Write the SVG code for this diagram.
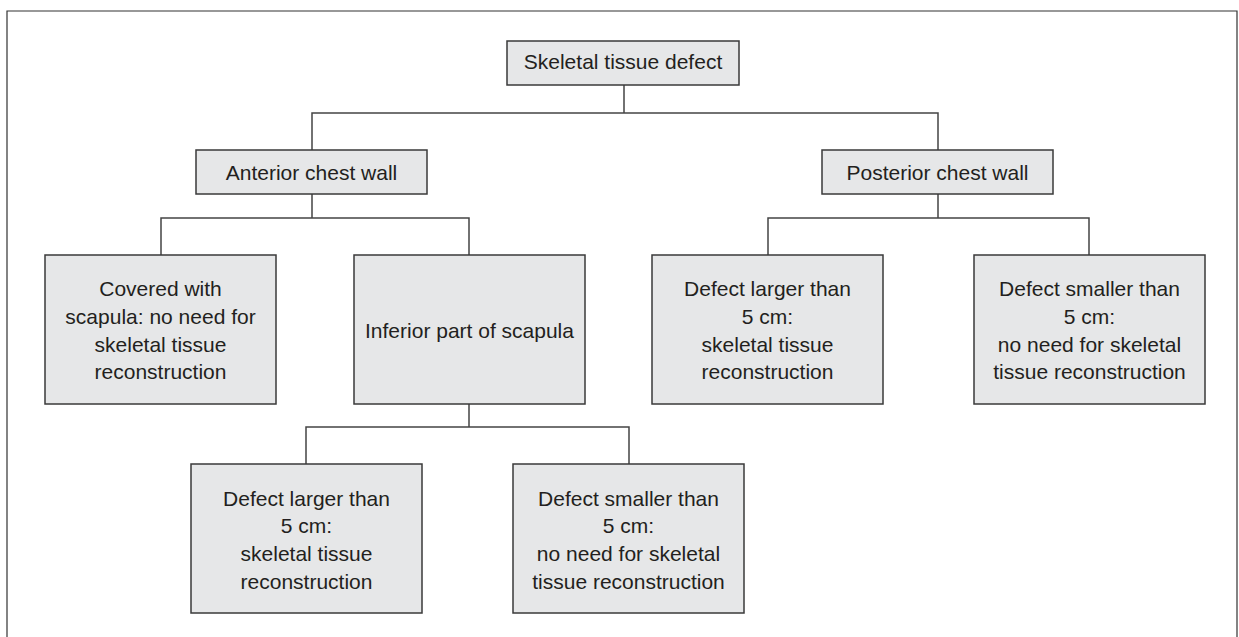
<svg xmlns="http://www.w3.org/2000/svg" width="1239" height="637" viewBox="0 0 1239 637">
<style>
.box{fill:#e6e7e8;stroke:#3a3a3a;stroke-width:1.5}
.ln{fill:none;stroke:#444;stroke-width:1.5}
text{font-family:"Liberation Sans",Arial,sans-serif;font-size:21px;fill:#231f20;text-anchor:middle}
</style>
<rect x="0" y="0" width="1239" height="637" fill="#fff"/>
<path d="M7 640 V11 H1237 V640" fill="none" stroke="#333" stroke-width="1.2"/>
<g id="connectors" class="ln">
<path d="M624 85 V113 M312 150 V113 H938 V150"/>
<path d="M312 194 V218 M161 255 V218 H469 V255"/>
<path d="M938 194 V218 M768 255 V218 H1089 V255"/>
<path d="M469 404 V427 M306 464 V427 H629 V464"/>
</g>
<g id="root"><rect class="box" x="507" y="41" width="232" height="44"/><text x="623" y="69">Skeletal tissue defect</text></g>
<g id="anterior"><rect class="box" x="196" y="150" width="231" height="44"/><text x="311.5" y="180">Anterior chest wall</text></g>
<g id="posterior"><rect class="box" x="822" y="150" width="231" height="44"/><text x="937.5" y="180">Posterior chest wall</text></g>
<g id="covered"><rect class="box" x="45" y="255" width="231" height="149"/><text x="160.5" y="296">Covered with</text><text x="160.5" y="324">scapula: no need for</text><text x="160.5" y="352">skeletal tissue</text><text x="160.5" y="379">reconstruction</text></g>
<g id="inferior"><rect class="box" x="354" y="255" width="231" height="149"/><text x="469.5" y="338">Inferior part of scapula</text></g>
<g id="post-larger"><rect class="box" x="652" y="255" width="231" height="149"/><text x="767.5" y="296">Defect larger than</text><text x="767.5" y="324">5 cm:</text><text x="767.5" y="352">skeletal tissue</text><text x="767.5" y="379">reconstruction</text></g>
<g id="post-smaller"><rect class="box" x="974" y="255" width="231" height="149"/><text x="1089.5" y="296">Defect smaller than</text><text x="1089.5" y="324">5 cm:</text><text x="1089.5" y="352">no need for skeletal</text><text x="1089.5" y="379">tissue reconstruction</text></g>
<g id="inf-larger"><rect class="box" x="191" y="464" width="231" height="149"/><text x="306.5" y="506">Defect larger than</text><text x="306.5" y="533">5 cm:</text><text x="306.5" y="561">skeletal tissue</text><text x="306.5" y="589">reconstruction</text></g>
<g id="inf-smaller"><rect class="box" x="513" y="464" width="231" height="149"/><text x="628.5" y="506">Defect smaller than</text><text x="628.5" y="533">5 cm:</text><text x="628.5" y="561">no need for skeletal</text><text x="628.5" y="589">tissue reconstruction</text></g>
</svg>
